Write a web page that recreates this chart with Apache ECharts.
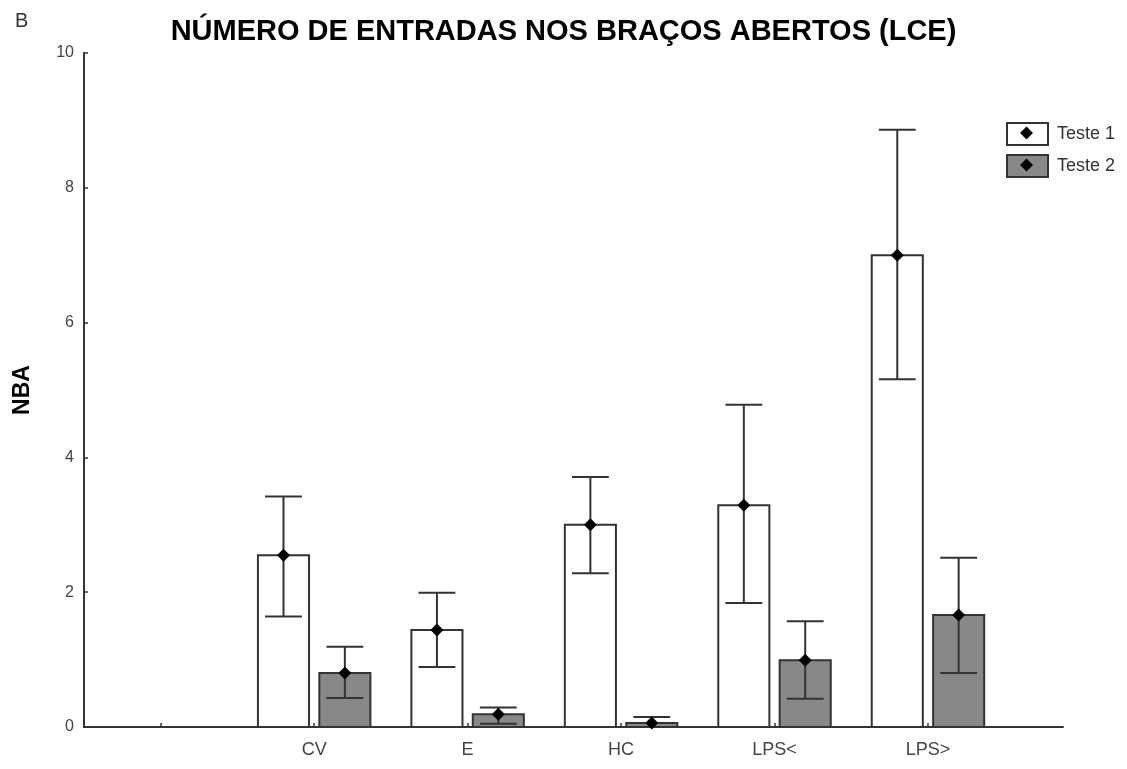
<!DOCTYPE html>
<html>
<head>
<meta charset="utf-8">
<script src="https://cdn.jsdelivr.net/npm/echarts@6/dist/echarts.min.js"></script>
<style>
  html, body { margin: 0; padding: 0; background: #fff; }
  #chart { width: 1127px; height: 769px; }
</style>
</head>
<body>
<div id="chart"></div>
<script>
// categories on the x axis (first one is an empty slot)
const categories = ['', 'CV', 'E', 'HC', 'LPS<', 'LPS>']
const yTicks = [0, 2, 4, 6, 8, 10]

// Teste 1 (white bars)
const teste1Mean = [2.55, 1.44, 3.0, 3.29, 7.0]
const teste1Low = [1.64, 0.89, 2.28, 1.84, 5.16]
const teste1High = [3.42, 1.99, 3.71, 4.78, 8.86]

// Teste 2 (grey bars)
const teste2Mean = [0.8, 0.19, 0.06, 0.99, 1.66]
const teste2Low = [0.43, 0.05, 0.0, 0.42, 0.8]
const teste2High = [1.19, 0.29, 0.15, 1.57, 2.51]

const font = '"Liberation Sans", Arial, sans-serif'

const toRows = (mean, low, high) =>
  mean.map((m, i) => [i + 1, m, low[i], high[i]])

const makeRender = (offset, fill) => (params, api) => {
  const x = api.value(0)
  const mean = api.value(1)
  const lo = api.value(2)
  const hi = api.value(3)
  const unit = api.size([1, 0])[0]
  const base = api.coord([x, 0])
  const top = api.coord([x, mean])
  const cx = base[0] + offset * unit
  const bw = unit * 0.333
  const cap = unit * 0.24
  const yLo = api.coord([x, lo])[1]
  const yHi = api.coord([x, hi])[1]
  const d = 6.5
  const line = { stroke: '#333', lineWidth: 2 }
  return {
    type: 'group',
    children: [
      {
        type: 'rect',
        shape: { x: cx - bw / 2, y: top[1], width: bw, height: base[1] - top[1] },
        style: { fill, stroke: '#333', lineWidth: 2 }
      },
      { type: 'line', shape: { x1: cx, y1: yLo, x2: cx, y2: yHi }, style: line },
      { type: 'line', shape: { x1: cx - cap / 2, y1: yHi, x2: cx + cap / 2, y2: yHi }, style: line },
      { type: 'line', shape: { x1: cx - cap / 2, y1: yLo, x2: cx + cap / 2, y2: yLo }, style: line },
      {
        type: 'polygon',
        shape: { points: [[cx, top[1] - d], [cx + d, top[1]], [cx, top[1] + d], [cx - d, top[1]]] },
        style: { fill: '#000' }
      }
    ]
  }
}

const chart = echarts.init(document.getElementById('chart'))

const option = {
  animation: false,
  title: [
    {
      text: 'NÚMERO DE ENTRADAS NOS BRAÇOS ABERTOS (LCE)',
      left: 'center',
      top: 12,
      textStyle: { fontFamily: font, fontSize: 29, fontWeight: 'bold', color: '#000' }
    },
    {
      text: 'B',
      left: 10,
      top: 6,
      textStyle: { fontFamily: font, fontSize: 20, fontWeight: 'normal', color: '#333' }
    }
  ],
  legend: [
    {
      orient: 'vertical',
      left: 1006,
      top: 122,
      padding: 0,
      itemWidth: 41,
      itemHeight: 22,
      itemGap: 8,
      icon: 'rect',
      selectedMode: false,
      itemStyle: { borderColor: '#333', borderWidth: 2 },
      textStyle: { fontFamily: font, fontSize: 18, lineHeight: 22, color: '#333', padding: [0, 0, 0, 4] },
      data: ['Teste 1', 'Teste 2']
    },
    {
      orient: 'vertical',
      left: 1020,
      top: 126.5,
      padding: 0,
      itemWidth: 13,
      itemHeight: 13,
      itemGap: 19,
      icon: 'diamond',
      selectedMode: false,
      itemStyle: { color: '#000', borderWidth: 0 },
      textStyle: { fontSize: 1, lineHeight: 13, color: 'rgba(0,0,0,0)' },
      data: ['Teste 1', 'Teste 2']
    }
  ],
  grid: { left: 84, right: 64, top: 53, bottom: 42 },
  xAxis: {
    type: 'value',
    min: -0.5,
    max: 5.88,
    splitLine: { show: false },
    axisLine: { lineStyle: { color: '#333', width: 2 } },
    axisTick: {
      inside: true,
      length: 4,
      customValues: categories.map((c, i) => i),
      lineStyle: { color: '#333', width: 1.5 }
    },
    axisLabel: {
      customValues: categories.map((c, i) => i).slice(1),
      formatter: (v) => categories[v],
      margin: 14,
      fontFamily: font,
      fontSize: 18,
      color: '#444'
    }
  },
  yAxis: {
    type: 'value',
    min: 0,
    max: 10,
    interval: 2,
    name: 'NBA',
    nameLocation: 'middle',
    nameGap: 50,
    nameTextStyle: { fontFamily: font, fontSize: 23, fontWeight: 'bold', color: '#000' },
    splitLine: { show: false },
    axisLine: { onZero: false, lineStyle: { color: '#333', width: 2 } },
    axisTick: { inside: true, length: 4, lineStyle: { color: '#333', width: 1.5 } },
    axisLabel: {
      customValues: yTicks,
      margin: 10,
      fontFamily: font,
      fontSize: 16,
      color: '#444'
    }
  },
  series: [
    {
      name: 'Teste 1',
      type: 'custom',
      itemStyle: { color: '#fff' },
      renderItem: makeRender(-0.2, '#fff'),
      encode: { x: 0, y: [1, 2, 3] },
      data: toRows(teste1Mean, teste1Low, teste1High)
    },
    {
      name: 'Teste 2',
      type: 'custom',
      itemStyle: { color: '#888' },
      renderItem: makeRender(0.2, '#888'),
      encode: { x: 0, y: [1, 2, 3] },
      data: toRows(teste2Mean, teste2Low, teste2High)
    }
  ]
}

chart.setOption(option)
</script>
</body>
</html>
